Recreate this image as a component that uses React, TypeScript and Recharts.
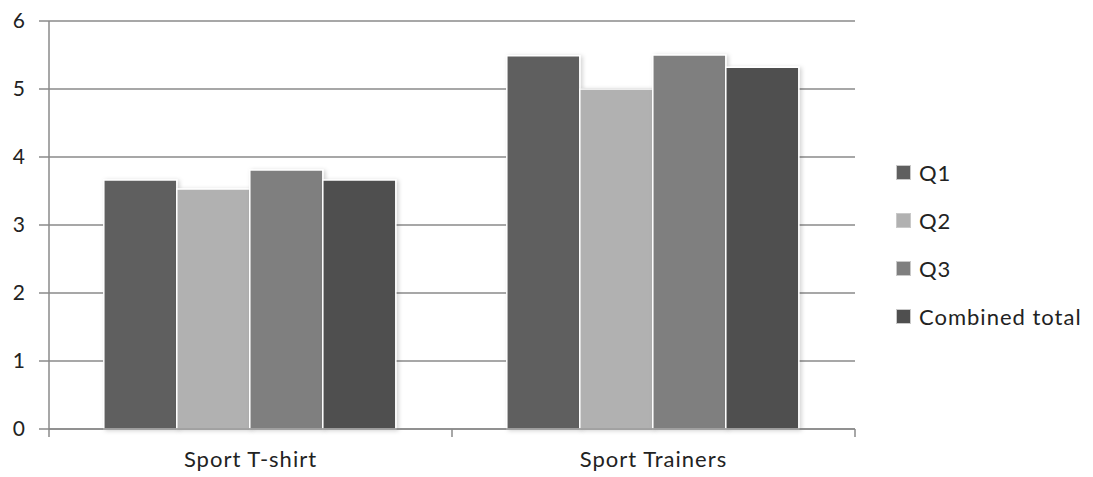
import { Bar, BarChart, CartesianGrid, XAxis, YAxis } from "recharts";

const products = ["Sport T-shirt", "Sport Trainers"];
const q1 = [3.66, 5.49];
const q2 = [3.53, 5.0];
const q3 = [3.81, 5.5];
const combinedTotal = [3.66, 5.32];
const yTicks = [0, 1, 2, 3, 4, 5, 6];

const series = [
  { key: "q1", name: "Q1", color: "#5f5f5f" },
  { key: "q2", name: "Q2", color: "#b1b1b1" },
  { key: "q3", name: "Q3", color: "#7f7f7f" },
  { key: "combined", name: "Combined total", color: "#4f4f4f" },
];

const data = products.map((product, i) => ({
  product,
  q1: q1[i],
  q2: q2[i],
  q3: q3[i],
  combined: combinedTotal[i],
}));

const FONT = "Lato, 'Open Sans', sans-serif";
const AXIS_GRAY = "#8a8a8a";
const AXIS_Y = 429;

// category labels centred under each group, with tick marks on the group boundaries
function CategoryTick(props: any) {
  const { x, payload, index, visibleTicksCount } = props;
  const half = payload?.offset ?? 201.5;
  const isLast = index === (visibleTicksCount ?? products.length) - 1;
  return (
    <g>
      <line x1={x - half} x2={x - half} y1={AXIS_Y} y2={AXIS_Y + 8} stroke={AXIS_GRAY} strokeWidth={1.5} />
      {isLast && (
        <line x1={x + half} x2={x + half} y1={AXIS_Y} y2={AXIS_Y + 8} stroke={AXIS_GRAY} strokeWidth={1.5} />
      )}
      <text
        x={x}
        y={AXIS_Y + 38}
        textAnchor="middle"
        fill="#222"
        fontSize={22}
        letterSpacing={1}
        fontFamily={FONT}
      >
        {payload.value}
      </text>
    </g>
  );
}

function LegendList() {
  return (
    <div
      style={{
        position: "absolute",
        left: 896,
        top: 148,
        fontFamily: FONT,
        fontSize: 22,
        letterSpacing: 1,
        color: "#222",
      }}
    >
      {series.map((s) => (
        <div key={s.key} style={{ display: "flex", alignItems: "center", height: 48 }}>
          <span
            style={{
              display: "inline-block",
              width: 13,
              height: 13,
              background: s.color,
              border: "1px solid #c9c9c9",
              marginRight: 8,
            }}
          />
          <span>{s.name}</span>
        </div>
      ))}
    </div>
  );
}

export default function App() {
  return (
    <div style={{ position: "fixed", left: 0, top: 0, width: 1093, height: 477, background: "#fff" }}>
      <BarChart
        width={1093}
        height={477}
        data={data}
        margin={{ top: 21, right: 238, left: 0, bottom: 0 }}
        barCategoryGap="13.6%"
        barGap={0}
      >
        <defs>
          <filter id="barShadow" x="-10%" y="-10%" width="130%" height="130%">
            <feDropShadow dx={2} dy={1} stdDeviation={2} floodColor="#000" floodOpacity={0.18} />
          </filter>
        </defs>
        <CartesianGrid vertical={false} stroke={AXIS_GRAY} strokeWidth={1.5} />
        <XAxis
          dataKey="product"
          height={48}
          axisLine={{ stroke: AXIS_GRAY, strokeWidth: 1.5 }}
          tickLine={false}
          tick={<CategoryTick />}
          interval={0}
        />
        <YAxis
          width={49}
          domain={[0, 6]}
          ticks={yTicks}
          axisLine={{ stroke: AXIS_GRAY, strokeWidth: 1.5 }}
          tickLine={{ stroke: AXIS_GRAY, strokeWidth: 1.5 }}
          tickSize={10}
          tickMargin={14}
          tick={{ fill: "#222", fontSize: 21, fontFamily: FONT }}
        />
        {series.map((s) => (
          <Bar
            key={s.key}
            dataKey={s.key}
            name={s.name}
            fill={s.color}
            stroke="#ffffff"
            strokeWidth={1.5}
            filter="url(#barShadow)"
            isAnimationActive={false}
          />
        ))}
      </BarChart>
      <LegendList />
    </div>
  );
}
